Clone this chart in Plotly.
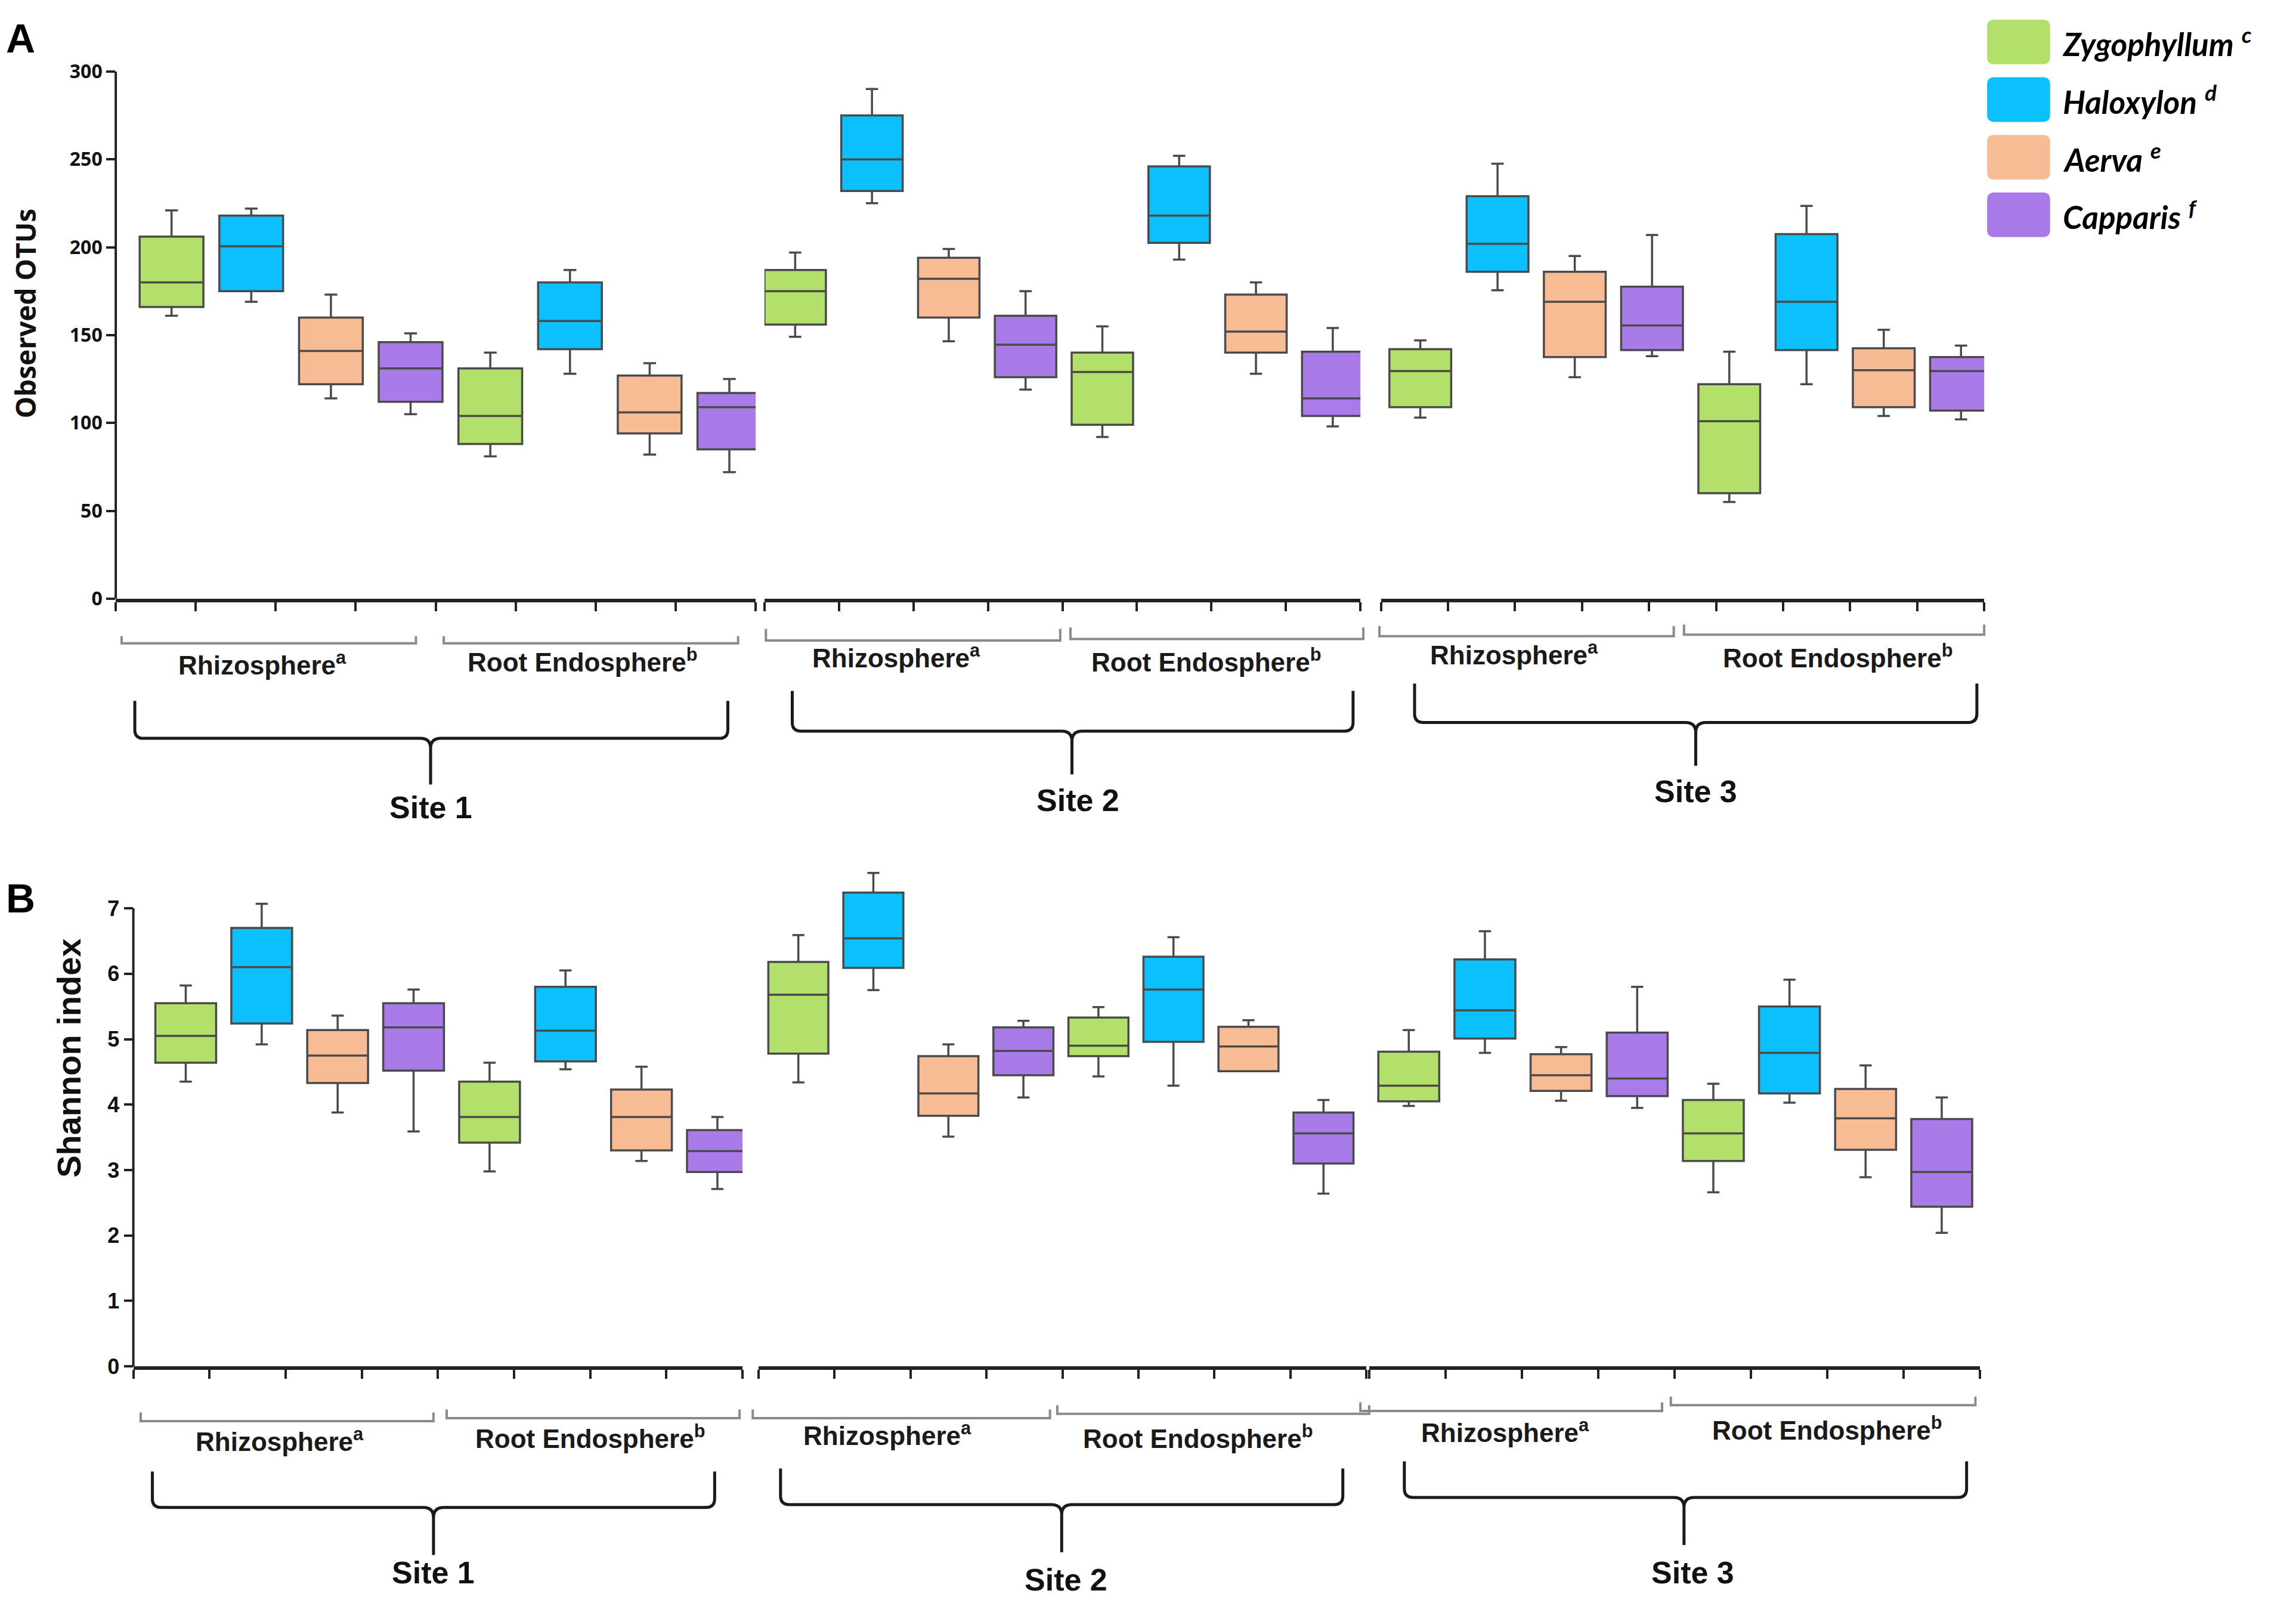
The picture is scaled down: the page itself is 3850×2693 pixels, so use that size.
import plotly.graph_objects as go
import numpy as np

# ---------------- DATA ----------------
species = ["Zygophyllum", "Haloxylon", "Aerva", "Capparis"]
species_sup = ["c", "d", "e", "f"]
compartments = ["Rhizosphere", "Root Endosphere"]
compartment_sup = ["a", "b"]
sites = ["Site 1", "Site 2", "Site 3"]

# Order within each site: Z, H, A, C (rhizosphere) then Z, H, A, C (root endosphere)
otu_low = [161, 169, 114, 105, 81, 128, 82, 72,
           149, 225, 146.5, 119, 92, 193, 128, 98,
           103, 175.5, 126, 138, 55, 122, 104, 102]
otu_q1 = [166, 175, 122, 112, 88, 142, 94, 85,
          156, 232, 160, 126, 99, 202.5, 140, 104,
          109, 186, 137.5, 141.5, 60, 141.5, 109, 107]
otu_median = [180, 200.5, 141, 131, 104, 158, 106, 109,
              175, 250, 182, 144.5, 129, 218, 152, 114,
              129.5, 202, 169, 155.5, 101, 169, 130, 129.5]
otu_q3 = [206, 218, 160, 146, 131, 180, 127, 117,
          187, 275, 194, 161, 140, 246, 173, 140.5,
          142, 229, 186, 177.5, 122, 207.5, 142.5, 137.5]
otu_high = [221, 222, 173, 151, 140, 187, 134, 125,
            197, 290, 199, 175, 155, 252, 180, 154,
            147, 247.5, 195, 207, 140.5, 223.5, 153, 144]

shannon_low = [4.35, 4.92, 3.88, 3.59, 2.98, 4.54, 3.14, 2.71,
               4.34, 5.75, 3.51, 4.11, 4.43, 4.29, 4.51, 2.64,
               3.98, 4.79, 4.06, 3.95, 2.66, 4.03, 2.89, 2.04]
shannon_q1 = [4.64, 5.24, 4.33, 4.52, 3.42, 4.66, 3.30, 2.97,
              4.78, 6.09, 3.83, 4.45, 4.74, 4.96, 4.51, 3.10,
              4.05, 5.01, 4.21, 4.13, 3.14, 4.17, 3.31, 2.44]
shannon_median = [5.05, 6.10, 4.75, 5.18, 3.81, 5.13, 3.81, 3.29,
                  5.68, 6.54, 4.17, 4.82, 4.90, 5.76, 4.89, 3.56,
                  4.29, 5.44, 4.45, 4.40, 3.56, 4.79, 3.79, 2.97]
shannon_q3 = [5.55, 6.70, 5.14, 5.55, 4.35, 5.80, 4.23, 3.61,
              6.18, 7.24, 4.74, 5.18, 5.33, 6.26, 5.19, 3.88,
              4.81, 6.22, 4.77, 5.10, 4.07, 5.50, 4.24, 3.78]
shannon_high = [5.82, 7.07, 5.36, 5.76, 4.64, 6.05, 4.58, 3.81,
                6.59, 7.54, 4.92, 5.28, 5.49, 6.56, 5.29, 4.07,
                5.14, 6.65, 4.88, 5.80, 4.32, 5.91, 4.60, 4.11]

otu_ticks = [0, 50, 100, 150, 200, 250, 300]
shannon_ticks = [0, 1, 2, 3, 4, 5, 6, 7]

# ---------------- STYLE / LAYOUT ----------------
colors = ["#B3DF6B", "#0CBFFD", "#F7BC94", "#A97BE8"]
W, H = 3850, 2693
DW, DH = 1568.0, 1096.8  # reference coordinates used for placement
OFF = 3.2                # compensates the page margin of the viewer


def px(x):
    return (x - OFF) / DW


def py(y):
    return 1 - (y - OFF) / DH


panels = {
    "A": dict(
        data=(otu_low, otu_q1, otu_median, otu_q3, otu_high),
        ydom=(406, 40), yrange=[0, 300], yticks=otu_ticks, ytop_line=300,
        xdoms=[(79, 516), (522, 929), (943, 1355)],
        xranges=[[-0.70, 7.33], [-0.40, 7.36], [-0.51, 7.30]],
        nint=[8, 8, 9],
        tickfont=dict(family="Open Sans", size=32, color="#111", weight="bold"),
        title="Observed OTUs", title_xy=(17, 208),
        title_font=dict(family="Open Sans", size=46, color="#111", weight="bold"),
        letter="A", letter_xy=(14, 17),
        brk=[
            dict(rh=(83, 284), re=(303, 504), bl=(437, 437), bt=(432, 432), ly=(451, 449), lx=(179, 398),
                 brace=(92, 497, 294), bty=477, bh=503, tip=535, sx=294, sy=551),
            dict(rh=(523, 724), re=(731, 931), bl=(435, 434), bt=(427, 426), ly=(446, 449), lx=(612, 824),
                 brace=(541, 924, 732), bty=470, bh=498, tip=528, sx=736, sy=546),
            dict(rh=(942, 1143), re=(1150, 1355), bl=(432, 431), bt=(425, 424), ly=(444, 446), lx=(1034, 1255),
                 brace=(966, 1350, 1158), bty=465, bh=492, tip=522, sx=1158, sy=540),
        ],
    ),
    "B": dict(
        data=(shannon_low, shannon_q1, shannon_median, shannon_q3, shannon_high),
        ydom=(939, 939 - 7.65 * (939 - 621) / 7), yrange=[0, 7.65], yticks=shannon_ticks, ytop_line=7,
        xdoms=[(91, 507), (518, 933), (935, 1352)],
        xranges=[[-0.69, 7.33], [-0.53, 7.57], [-0.52, 7.50]],
        nint=[8, 8, 8],
        tickfont=dict(family="Liberation Sans Narrow, Liberation Sans", size=36, color="#111", weight="bold"),
        title="Shannon index", title_xy=(47, 725),
        title_font=dict(family="Liberation Sans", size=56, color="#111", weight="bold"),
        letter="B", letter_xy=(14, 614),
        brk=[
            dict(rh=(96, 296), re=(305, 505), bl=(977, 975), bt=(971, 969), ly=(990, 988), lx=(191, 403),
                 brace=(104, 488, 296), bty=1012, bh=1037, tip=1070, sx=296, sy=1082),
            dict(rh=(514, 717), re=(722, 935), bl=(975, 972), bt=(969, 966), ly=(986, 988), lx=(606, 818),
                 brace=(533, 917, 725), bty=1010, bh=1035, tip=1068, sx=728, sy=1087),
            dict(rh=(929, 1135), re=(1141, 1349), bl=(970, 966), bt=(964, 960), ly=(984, 982), lx=(1028, 1248),
                 brace=(959, 1343, 1150), bty=1005, bh=1030, tip=1063, sx=1156, sy=1082),
        ],
    ),
}

fig = go.Figure()
layout = dict(
    width=W, height=H, margin=dict(l=0, r=0, t=0, b=0),
    paper_bgcolor="white", plot_bgcolor="rgba(0,0,0,0)",
    showlegend=False, boxmode="overlay",
)
shapes = []
annotations = []

label_font = dict(family="Liberation Sans", size=44, color="#1a1a1a", weight="bold")
site_font = dict(family="Liberation Sans", size=52, color="#111", weight="bold")


def P(x, y):
    return f"{px(x):.5f},{py(y):.5f}"


def brace_path(xl, xr, xc, yt, yh, ytip):
    r, d = 6, 7
    return (f"M {P(xl, yt)} L {P(xl, yh - r)} Q {P(xl, yh)} {P(xl + r, yh)} "
            f"L {P(xc - d, yh)} Q {P(xc, yh)} {P(xc, yh + d)} L {P(xc, ytip)} "
            f"M {P(xc, yh + d)} Q {P(xc, yh)} {P(xc + d, yh)} "
            f"L {P(xr - r, yh)} Q {P(xr, yh)} {P(xr, yh - r)} L {P(xr, yt)}")


axis_idx = 0
for pi, (pname, pc) in enumerate(panels.items()):
    ykey = "yaxis" if pi == 0 else f"yaxis{pi + 1}"
    yref = "y" if pi == 0 else f"y{pi + 1}"
    low, q1, med, q3, high = pc["data"]
    first_x = None
    for s in range(3):
        axis_idx += 1
        xkey = "xaxis" if axis_idx == 1 else f"xaxis{axis_idx}"
        xref = "x" if axis_idx == 1 else f"x{axis_idx}"
        if first_x is None:
            first_x = xref
        for k in range(4):
            idx = [s * 8 + k, s * 8 + 4 + k]
            fig.add_trace(go.Box(
                x=[k, 4 + k],
                lowerfence=[low[i] for i in idx],
                q1=[q1[i] for i in idx],
                median=[med[i] for i in idx],
                q3=[q3[i] for i in idx],
                upperfence=[high[i] for i in idx],
                fillcolor=colors[k],
                line=dict(color="#4a4a4a", width=3.5),
                width=0.8, whiskerwidth=0.2,
                name=species[k], boxpoints=False,
                xaxis=xref, yaxis=yref, showlegend=False,
            ))
        r0, r1 = pc["xranges"][s]
        d0, d1 = pc["xdoms"][s]
        layout[xkey] = dict(
            domain=[px(d0), px(d1)], range=[r0, r1], anchor=yref,
            showline=True, linecolor="#222", linewidth=6,
            ticks="outside", ticklen=15, tickwidth=4, tickcolor="#222",
            tickvals=list(np.linspace(r0, r1, pc["nint"][s] + 1)),
            showticklabels=False, showgrid=False, zeroline=False, fixedrange=True,
        )
        b = pc["brk"][s]
        for c, seg in enumerate([b["rh"], b["re"]]):
            shapes.append(dict(
                type="path", xref="paper", yref="paper",
                path=f"M {P(seg[0], b['bt'][c])} L {P(seg[0], b['bl'][c])} L {P(seg[1], b['bl'][c])} L {P(seg[1], b['bt'][c])}",
                line=dict(color="#8a8a8a", width=4),
            ))
            annotations.append(dict(
                x=px(b["lx"][c]), y=py(b["ly"][c]), xref="paper", yref="paper",
                text=f"{compartments[c]}<sup>{compartment_sup[c]}</sup>", showarrow=False,
                xanchor="center", yanchor="middle", font=label_font,
            ))
        xl, xr, xc = b["brace"]
        shapes.append(dict(
            type="path", xref="paper", yref="paper",
            path=brace_path(xl, xr, xc, b["bty"], b["bh"], b["tip"]),
            line=dict(color="#1a1a1a", width=5),
        ))
        annotations.append(dict(
            x=px(b["sx"]), y=py(b["sy"]), xref="paper", yref="paper",
            text=sites[s], showarrow=False, xanchor="center", yanchor="middle", font=site_font,
        ))

    y0d, y1d = pc["ydom"]
    layout[ykey] = dict(
        domain=[py(y0d), py(y1d)], range=pc["yrange"], anchor=first_x,
        showline=False, ticks="outside", ticklen=15, tickwidth=4, tickcolor="#222",
        tickvals=pc["yticks"], ticktext=[str(t) for t in pc["yticks"]],
        tickfont=pc["tickfont"], showgrid=False, zeroline=False, fixedrange=True,
    )
    shapes.append(dict(
        type="line", xref="paper", yref=yref,
        x0=px(pc["xdoms"][0][0]), x1=px(pc["xdoms"][0][0]), y0=0, y1=pc["ytop_line"],
        line=dict(color="#222", width=4),
    ))
    annotations.append(dict(
        x=px(pc["title_xy"][0]), y=py(pc["title_xy"][1]), xref="paper", yref="paper",
        text=pc["title"], textangle=-90, showarrow=False, xanchor="center", yanchor="middle",
        font=pc["title_font"],
    ))
    annotations.append(dict(
        x=px(pc["letter_xy"][0]), y=py(pc["letter_xy"][1]), xref="paper", yref="paper",
        text=pc["letter"], showarrow=False, xanchor="center", yanchor="middle",
        font=dict(family="Liberation Sans", size=68, color="#000", weight="bold"),
    ))

# legend (manual, top right)
leg_rows = [(4, 35), (44, 75), (84, 115), (124, 155)]
for k, (t, btm) in enumerate(leg_rows):
    x0, x1 = 1357, 1400
    r = 5
    path = (f"M {P(x0 + r, t)} L {P(x1 - r, t)} Q {P(x1, t)} {P(x1, t + r)} "
            f"L {P(x1, btm - r)} Q {P(x1, btm)} {P(x1 - r, btm)} "
            f"L {P(x0 + r, btm)} Q {P(x0, btm)} {P(x0, btm - r)} "
            f"L {P(x0, t + r)} Q {P(x0, t)} {P(x0 + r, t)} Z")
    shapes.append(dict(type="path", xref="paper", yref="paper", path=path,
                       fillcolor=colors[k], line=dict(width=0)))
    annotations.append(dict(
        x=px(1408), y=py((t + btm) / 2), xref="paper", yref="paper",
        text=f"<i>{species[k]}</i> <sup><i>{species_sup[k]}</i></sup>", showarrow=False,
        xanchor="left", yanchor="middle",
        font=dict(family="Lato", size=53, color="#000", weight="bold"),
    ))

layout["shapes"] = shapes
layout["annotations"] = annotations
fig.update_layout(**layout)
fig.write_html("out.html")
